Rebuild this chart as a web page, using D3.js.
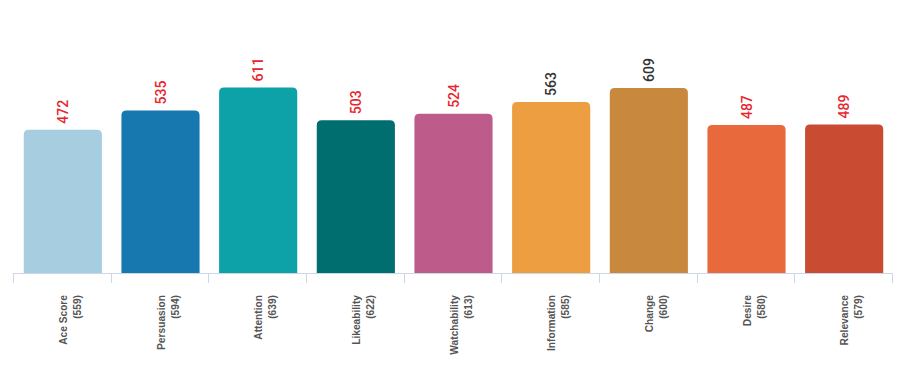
<!DOCTYPE html><html><head><meta charset="UTF-8"><title>Ace Score bars</title><script src="https://d3js.org/d3.v7.min.js"></script><style>
  body { margin: 0; background: #fff; }
  svg { display: block; }
  .val { font-family: Roboto, sans-serif; font-size: 14px; font-weight: 500; }
  .cat { font-family: "Liberation Sans", Arial, sans-serif; font-size: 10.2px; font-weight: bold; fill: #555; }
</style></head><body><svg id="chart"></svg><script>
const categories = ["Ace Score", "Persuasion", "Attention", "Likeability", "Watchability", "Information", "Change", "Desire", "Relevance"];
const values = [472, 535, 611, 503, 524, 563, 609, 487, 489];
const benchmarks = [559, 594, 639, 622, 613, 585, 600, 580, 579];
const barColors = ["#a6cee0", "#1778b0", "#0ca2a8", "#006d6f", "#bd5c8a", "#ec9e41", "#c8883e", "#e8693b", "#c94b31"];
const labelColors = ["#e8252b", "#e8252b", "#e8252b", "#e8252b", "#e8252b", "#333333", "#333333", "#e8252b", "#e8252b"];

const width = 903, height = 384;
const axisY = 273;

const svg = d3.select("#chart").attr("width", width).attr("height", height);

const x = d3.scaleBand().domain(categories).range([14, 893]).paddingInner(0.2).paddingOuter(0.1);
const y = d3.scaleLinear().domain([0, 800]).range([axisY, 30]);

// axis line + ticks at band boundaries
const bounds = d3.range(categories.length + 1).map(i => 13 + i * (879 / categories.length));
svg.append("line").attr("x1", 13).attr("x2", 892).attr("y1", axisY + 0.5).attr("y2", axisY + 0.5)
  .attr("stroke", "#ccd6e6").attr("stroke-width", 1);
svg.selectAll(".tick").data(bounds).enter().append("line")
  .attr("x1", d => Math.round(d) + 0.5).attr("x2", d => Math.round(d) + 0.5)
  .attr("y1", axisY).attr("y2", axisY + 10)
  .attr("stroke", "#ccd6e6").attr("stroke-width", 1);

// bars with rounded top corners
const r = 5;
function barPath(x0, w, top, bottom) {
  return `M${x0},${bottom} V${top + r} Q${x0},${top} ${x0 + r},${top} H${x0 + w - r} Q${x0 + w},${top} ${x0 + w},${top + r} V${bottom} Z`;
}
const data = categories.map((c, i) => ({ c, v: values[i], b: benchmarks[i], color: barColors[i], lc: labelColors[i] }));

svg.selectAll(".bar").data(data).enter().append("path")
  .attr("fill", d => d.color)
  .attr("d", d => barPath(x(d.c), x.bandwidth(), y(d.v), axisY));

// value labels
svg.selectAll(".val").data(data).enter().append("text")
  .attr("class", "val")
  .attr("fill", d => d.lc)
  .attr("transform", d => `translate(${x(d.c) + x.bandwidth() / 2},${y(d.v) - 6}) rotate(-90)`)
  .attr("y", 5)
  .text(d => d.v);

// category labels
const cat = svg.selectAll(".cat").data(data).enter().append("text")
  .attr("class", "cat")
  .attr("text-anchor", "end")
  .attr("transform", d => `translate(${x(d.c) + x.bandwidth() / 2},295) rotate(-90)`);
cat.append("tspan").attr("x", 0).attr("y", 4).text(d => d.c);
cat.append("tspan").attr("x", 0).attr("y", 18).text(d => `(${d.b})`);
</script></body></html>
